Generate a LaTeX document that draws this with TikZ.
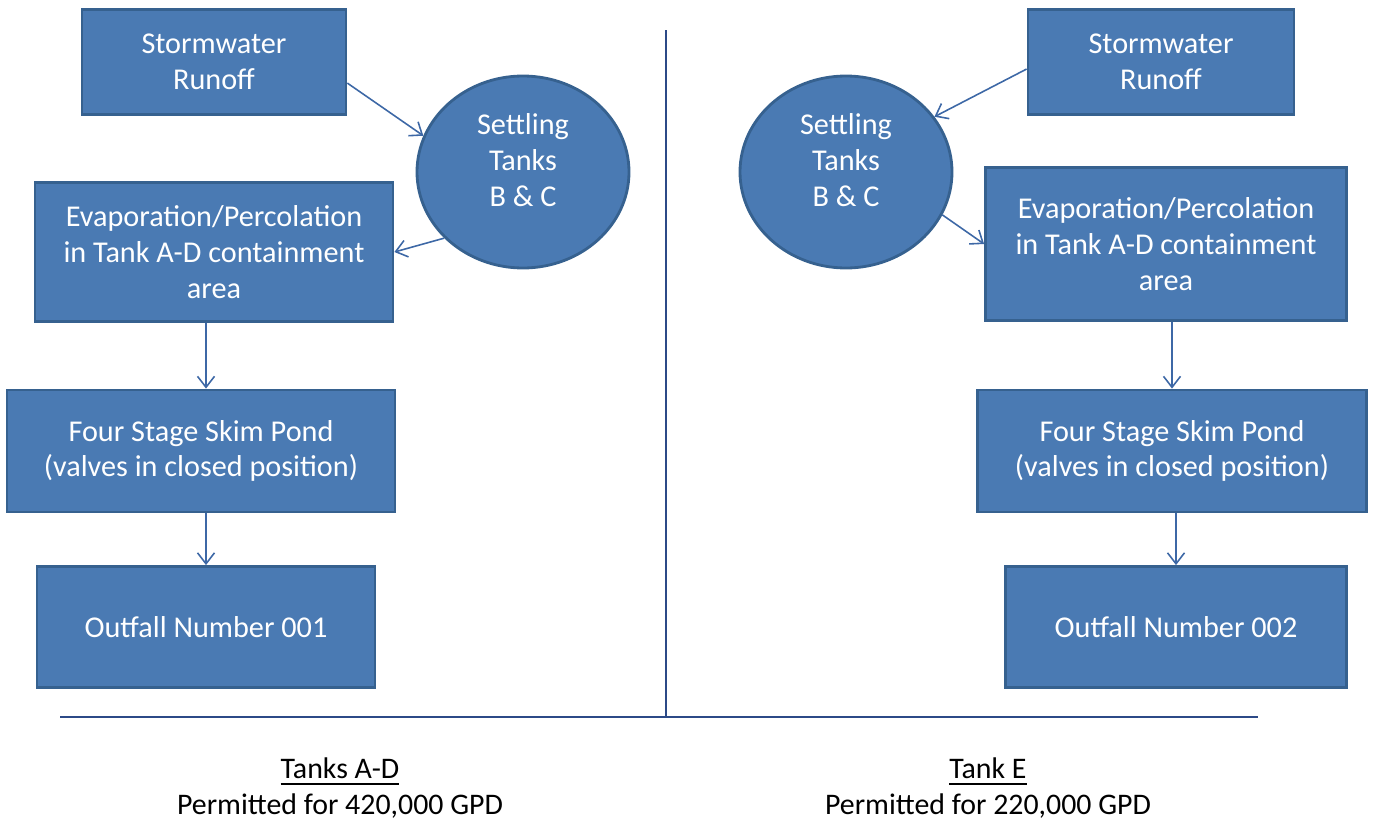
\documentclass[tikz,border=0pt]{standalone}
\usepackage{fontspec}
\setmainfont{Carlito}
\usetikzlibrary{calc}
\usetikzlibrary{arrows.meta}
\usetikzlibrary{shapes.geometric}

\definecolor{boxfill}{HTML}{4A7AB3}
\definecolor{boxedge}{HTML}{36618F}
\definecolor{flowline}{HTML}{3D68A6}
\definecolor{ruleline}{HTML}{2C4A87}

\tikzset{
  stepbox/.style={draw=boxedge, line width=0.8pt, fill=boxfill, text=white, align=center, inner sep=0pt, font=\fontsize{8.6}{10.2}\selectfont},
  tankcirc/.style={stepbox, ellipse, text depth=2.4mm},
  flow/.style={flowline, line width=0.45pt, -{Straight Barb[length=1.1mm,width=1.7mm]}},
  caption/.style={align=center, font=\fontsize{8.5}{10.2}\selectfont},
}

\begin{document}
\begin{tikzpicture}[x=0.1mm,y=-0.1mm]
\useasboundingbox (0,0) rectangle (1376,822);

% left side
\node[stepbox, minimum width=26.4mm, minimum height=10.5mm] (stormL) at (214,62) {Stormwater\\Runoff};
\node[tankcirc, minimum width=21.2mm, minimum height=19.2mm] (settleL) at (523,172) {Settling\\Tanks\\B \& C};
\node[stepbox, minimum width=35.8mm, minimum height=13.9mm] (evapL) at (214,252) {Evaporation/Percolation\\in Tank A-D containment\\area};
\node[stepbox, minimum width=38.8mm, minimum height=12.2mm] (fourL) at (201,451) {Four Stage Skim Pond\\(valves in closed position)};
\node[stepbox, minimum width=33.8mm, minimum height=12.1mm] (outL) at (206,627) {Outfall Number 001};

\draw[flow] (stormL.-9) -- (settleL.160);
\draw[flow] (settleL.220) -- (evapL.east);
\draw[flow] (evapL.south -| outL.north) -- (fourL.north -| outL.north);
\draw[flow] (fourL.south -| outL.north) -- (outL.north);

% right side
\node[stepbox, minimum width=26.6mm, minimum height=10.5mm] (stormR) at (1161,62) {Stormwater\\Runoff};
\node[tankcirc, minimum width=21.2mm, minimum height=19.2mm] (settleR) at (846,172) {Settling\\Tanks\\B \& C};
\node[stepbox, minimum width=36.1mm, minimum height=15.3mm] (evapR) at (1166,244) {Evaporation/Percolation\\in Tank A-D containment\\area};
\node[stepbox, minimum width=38.9mm, minimum height=12.2mm] (fourR) at (1172,451) {Four Stage Skim Pond\\(valves in closed position)};
\node[stepbox, minimum width=34.1mm, minimum height=12.1mm] (outR) at (1176,627) {Outfall Number 002};

\draw[flow] (stormR.183) -- (settleR.32);
\draw[flow] (settleR.-24) -- (evapR.west);
\draw[flow] (evapR.south -| fourR.north) -- (fourR.north);
\draw[flow] (fourR.south -| outR.north) -- (outR.north);

% divider
\coordinate (divtop) at (666,30);
\coordinate (divbot) at (666,717);
\coordinate (baseL) at (60,717);
\coordinate (baseR) at (1258,717);
\draw[ruleline, line width=0.6pt] (divtop) -- (divbot);
\draw[ruleline, line width=0.8pt] (baseL) -- (baseR);

\node[caption] (titleL) at (340,772) {\underline{Tanks A-D}};
\node[caption] (permitL) at (340,806) {Permitted for 420,000 GPD};
\node[caption] (titleR) at (988,772) {\underline{Tank E}};
\node[caption] (permitR) at (988,806) {Permitted for 220,000 GPD};

\end{tikzpicture}
\end{document}
